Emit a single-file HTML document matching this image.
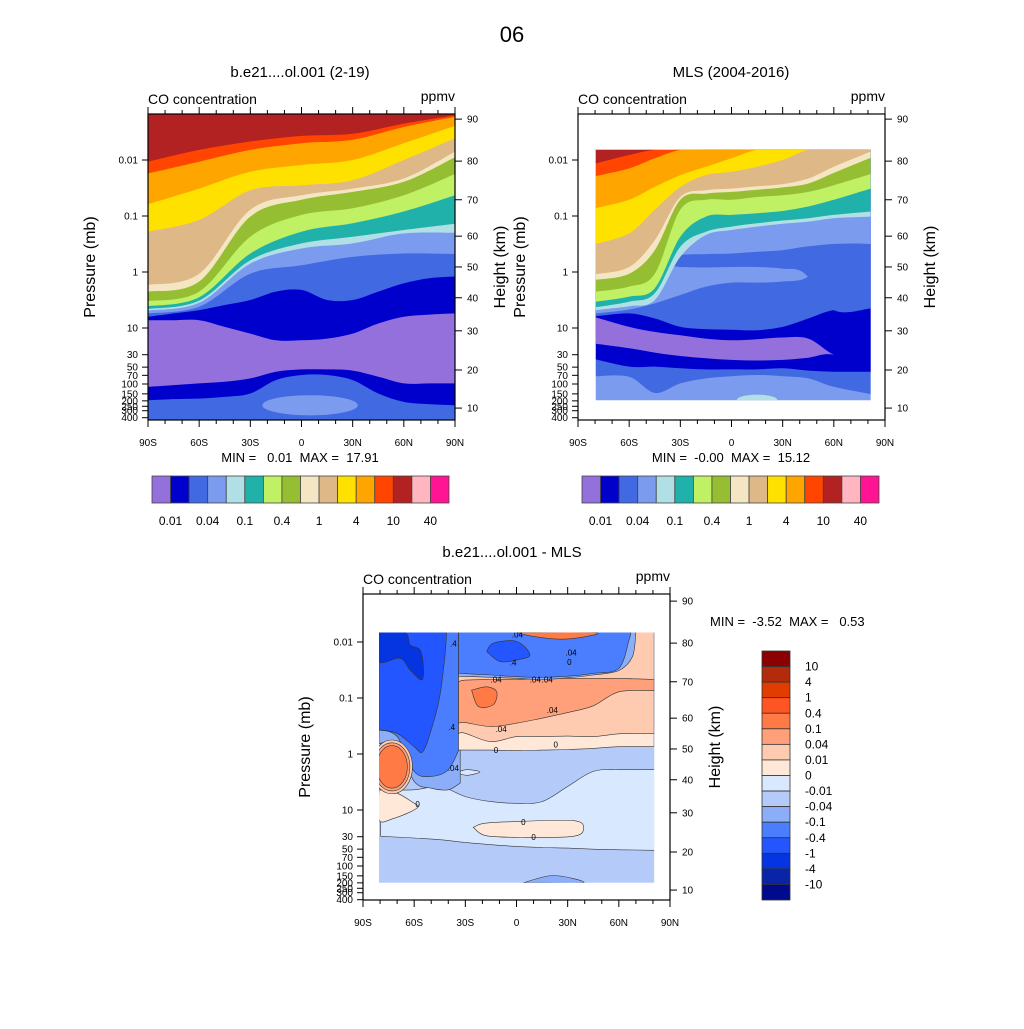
<!DOCTYPE html>
<html><head><meta charset="utf-8">
<style>
html,body{margin:0;padding:0;background:#fff;}
svg text{font-family:"Liberation Sans",Arial,sans-serif;}
.pre{white-space:pre;}
</style></head>
<body>
<svg id="fig" width="1024" height="1024" viewBox="0 0 1024 1024" xmlns="http://www.w3.org/2000/svg">
<rect x="0" y="0" width="1024" height="1024" fill="#fff"/>
<text x="512" y="42" font-size="22" text-anchor="middle">06</text>
<g id="root"></g>
</svg>
<script>
// ---------- shared data ----------
const pressTicks = [0.01, 0.1, 1, 10, 30, 50, 70, 100, 150, 200, 250, 300, 400];
const pressLabels = ["0.01","0.1","1","10","30","50","70","100","150","200","250","300","400"];
const heightTicks = [10, 20, 30, 40, 50, 60, 70, 80, 90];
const heightLogP = [2.43, 1.75, 1.05, 0.46, -0.09, -0.64, -1.29, -1.98, -2.73];
const latTicks = [-90, -60, -30, 0, 30, 60, 90];
const latLabels = ["90S","60S","30S","0","30N","60N","90N"];
const coLevels = ["0.01","0.04","0.1","0.4","1","4","10","40"];
const coColors = ["#9370DB","#0000CD","#4169E1","#7B9BEE","#B0E0E6","#20B2AA","#C0F064","#96BE32","#F5E6C3","#DEB887","#FFE100","#FFA500","#FF4500","#B22222","#FFB6C1","#FF1493"];
const diffLevels = ["10","4","1","0.4","0.1","0.04","0.01","0","-0.01","-0.04","-0.1","-0.4","-1","-4","-10"];
const diffColors = ["#8B0000","#B52A0A","#E33C00","#FF5522","#FF7A45","#FFA07A","#FFCBB0","#FFE8D8","#D8E8FF","#B4CBFA","#8CADF8","#4A7EFF","#2456FF","#0535E0","#0A24A8","#000A8C"];

// ---------- panel 1 (model) data: log10(p) of lower band boundaries ----------
const lat7 = [-90, -60, -30, 0, 30, 60, 90];
const lat13 = [-90, -75, -60, -45, -30, -15, 0, 15, 30, 45, 60, 75, 90];
const m_darkblue2 = [2.29,2.27,2.26,2.23,2.17,1.93,1.84,1.84,1.93,2.17,2.32,2.36,2.38];
const m_purple = [2.05,2.02,1.99,1.96,1.90,1.78,1.74,1.74,1.76,1.87,1.99,1.99,1.99];
const m_darkblue = [0.86,0.86,0.86,0.98,1.10,1.22,1.22,1.19,1.10,0.92,0.80,0.76,0.74];
const m_royal = [0.80,0.74,0.68,0.59,0.50,0.35,0.32,0.50,0.50,0.35,0.20,0.11,0.08];
const m_cornflower = [0.74,0.62,0.03,-0.12,-0.27,-0.33,-0.32];
const m_pale = [0.69,0.55,-0.15,-0.42,-0.51,-0.69,-0.70];
const m_teal = [0.66,0.51,-0.21,-0.51,-0.63,-0.75,-0.86];
const m_lightgreen = [0.61,0.45,-0.33,-0.72,-0.87,-1.08,-1.37];
const m_olive = [0.52,0.35,-0.63,-1.02,-1.14,-1.37,-1.75];
const m_cream = [0.35,0.17,-0.99,-1.29,-1.43,-1.61,-2.05];
const m_tan = [0.23,0.03,-1.11,-1.37,-1.49,-1.67,-2.15];
const m_yellow = [-0.72,-0.93,-1.46,-1.55,-1.64,-2.00,-2.39];
const m_orange = [-1.21,-1.49,-1.79,-1.91,-2.00,-2.30,-2.61];
const m_redorange = [-1.76,-1.97,-2.18,-2.30,-2.36,-2.59,-2.77];
const m_darkred = [-1.97,-2.18,-2.33,-2.43,-2.47,-2.65,-2.80];
const m_blob = [5, 2.38, 28, 0.18];

// ---------- panel 2 (MLS) ----------
const latM = [-79.6,-60,-45,-30,-15,0,15,30,45,60,81.6];
const o_royal = [1.86,1.87,2.16,1.99,1.90,1.86,1.84,1.86,1.90,2.05,2.18];
const o_darkblue = [1.56,1.69,1.69,1.72,1.74,1.74,1.74,1.72,1.76,1.78,1.78];
const o_purple = [1.28,1.36,1.44,1.50,1.54,1.57,1.58,1.57,1.53,1.48,1.78];
const o_darkblueU = [0.81,0.98,1.07,1.13,1.19,1.22,1.20,1.17,1.19,1.48,1.78];
const o_royalU = [0.79,0.74,0.83,0.98,1.02,1.03,1.04,0.98,0.83,0.68,0.65];
const o_cornflower = [0.74,0.67,0.56,0.41,0.26,0.19,0.19,0.17,0.08,-0.45,-0.50];
const latR2 = [-38,-30,-15,0,15,30,43,60,81.6];
const o_royal2Top = [-0.17,-0.30,-0.32,-0.33,-0.36,-0.39,-0.45,-0.50,-0.50];
const o_royal2Bot = [-0.12,-0.09,-0.08,-0.09,-0.09,-0.06,0.03,0.68,0.65];
const o_pale = [0.68,0.61,0.50,-0.27,-0.66,-0.75,-0.81,-0.86,-0.90,-0.96,-0.99];
const o_teal = [0.63,0.53,0.38,-0.45,-0.72,-0.81,-0.87,-0.92,-0.96,-1.02,-1.08];
const o_lightgreen = [0.53,0.44,0.29,-0.63,-0.99,-1.02,-1.05,-1.09,-1.17,-1.29,-1.49];
const o_olive = [0.35,0.26,0.03,-1.11,-1.29,-1.29,-1.34,-1.37,-1.43,-1.55,-1.75];
const o_cream = [0.14,0.03,-0.39,-1.29,-1.40,-1.43,-1.47,-1.51,-1.58,-1.77,-2.04];
const o_tan = [0.04,-0.09,-0.57,-1.34,-1.46,-1.49,-1.53,-1.57,-1.67,-1.88,-2.15];
const o_yellow = [-0.50,-0.69,-1.11,-1.52,-1.73,-1.79,-1.88,-2.00,-2.18,-2.18,-2.18];
const o_orange = [-1.14,-1.29,-1.52,-1.73,-1.88,-2.03,-2.18,-2.18,-2.18,-2.18,-2.18];
const o_redorange = [-1.71,-1.85,-2.03,-2.18,-2.18,-2.18,-2.18,-2.18,-2.18,-2.18,-2.18];
const o_darkred = [-1.94,-2.09,-2.18,-2.18,-2.18,-2.18,-2.18,-2.18,-2.18,-2.18,-2.18];
const o_blob = [15, 2.29, 12, 0.10];

// ---------- panel 3 (difference) ----------
const d_lightest = [1.47,1.50,1.53,1.58,1.62,1.65,1.67,1.68,1.70,1.71,1.72];
const d_light = [0.64,0.64,0.58,0.76,0.85,0.88,0.85,0.58,0.31,0.28,0.28];
const latL = [-80.6,-70,-60,-50,-40,-33];
const d_L_m004 = [-0.19,-0.16,0.49,0.61,0.64,0.52];
const d_L_m01 = [-0.43,-0.31,0.31,0.40,0.28,-0.13];
const latL2 = [-80.6,-70,-60,-55,-50,-45,-42,-41];
const d_L_m04 = [-0.43,-0.37,-0.13,-0.04,-0.43,-1.03,-1.74,-2.17];
const latR = [-34,-30,-15,0,15,30,45,60,80.7];
const d_R_zero = [-0.07,-0.07,-0.07,-0.06,-0.07,-0.08,-0.10,-0.13,-0.13];
const d_R_p001 = [-0.37,-0.37,-0.22,-0.31,-0.31,-0.32,-0.31,-0.36,-0.37];
const d_R_p004Top = [-1.29,-1.32,-1.33,-1.33,-1.35,-1.35,-1.35,-1.35,-1.33];
const d_R_p004Bot = [-0.55,-0.56,-0.49,-0.55,-0.64,-0.74,-0.86,-1.11,-1.13];
const latLensA = [-34,-15,0,15,30,45,60,68,70];
const d_lensA = [-1.39,-1.37,-1.35,-1.33,-1.36,-1.41,-1.49,-1.74,-2.17];
const latLensB = [-34,-15,0,15,30,45,60,66,67];
const d_lensB = [-1.44,-1.41,-1.38,-1.37,-1.39,-1.44,-1.53,-2.04,-2.17];
const d_darkTL_lat = [-80.6,-65.4,-62.4,-56.6,-54.6,-55.6,-62.4,-68.3,-80.6];
const d_darkTL_lp = [-2.17,-2.17,-1.95,-1.86,-1.56,-1.32,-1.50,-1.71,-1.65];
const d_lensDark_lat = [-17.5,-13.6,0.1,7.9,0.1,-9.7];
const d_lensDark_lp = [-1.83,-1.98,-2.01,-1.77,-1.68,-1.65];
const d_topOr_lat = [0.1,9.9,25.5,41.2,45.1];
const d_topOr_lp = [-2.17,-2.10,-2.05,-2.10,-2.17];
const d_smallOr_lat = [-26.3,-17.5,-11.6,-13.6,-22.4];
const d_smallOr_lp = [-1.14,-1.20,-1.11,-0.88,-0.85];
const d_peachL_lat = [-80.6,-70,-61,-57.6,-62,-72,-80.6];
const d_peachL_lp = [0.64,0.70,0.86,0.94,1.03,1.15,1.18];
const d_peachT_lat = [-25.3,-19.4,-3.8,33.3,39.2,33.3,6.0,-17.5];
const d_peachT_lp = [1.31,1.24,1.21,1.19,1.34,1.47,1.49,1.46];
const d_paleS_lat = [-35.1,-29.2,-21.4,-29.2];
const d_paleS_lp = [0.33,0.28,0.32,0.38];
const d_botB_lat = [4.0,21.6,39.2];
const d_botB_lp = [2.30,2.17,2.30];
const d_orBlob = [-73, 0.23, 9, 0.38];

// ---------- helpers ----------
const NS = "http://www.w3.org/2000/svg";
const root = document.getElementById('root');
function mk(tag, attrs, parent){ const e=document.createElementNS(NS,tag); for(const k in attrs) e.setAttribute(k,attrs[k]); (parent||root).appendChild(e); return e; }
function crPath(pts, first){
  let d = (first?'M':'L') + pts[0][0].toFixed(1)+','+pts[0][1].toFixed(1);
  for(let i=0;i<pts.length-1;i++){
    const p0=pts[i-1]||pts[i], p1=pts[i], p2=pts[i+1], p3=pts[i+2]||pts[i+1];
    const c1=[p1[0]+(p2[0]-p0[0])/6, p1[1]+(p2[1]-p0[1])/6];
    const c2=[p2[0]-(p3[0]-p1[0])/6, p2[1]-(p3[1]-p1[1])/6];
    d+='C'+c1[0].toFixed(1)+','+c1[1].toFixed(1)+' '+c2[0].toFixed(1)+','+c2[1].toFixed(1)+' '+p2[0].toFixed(1)+','+p2[1].toFixed(1);
  }
  return d;
}
function makePanel(x0,y0,off){
  return {x0:x0, x1:x0+307, y0:y0, y1:y0+306,
    X:(lat)=>x0+(lat+90)/180*307, Y:(lp)=>off+56*lp};
}
function band(P, g, lats, bot, top, color, name, stroke){
  const b = lats.map((l,i)=>[P.X(l),P.Y(bot[i])]);
  let d;
  if(top){
    const t = lats.map((l,i)=>[P.X(l),P.Y(top[i])]);
    d = crPath(t,true) + crPath(b.slice().reverse(),false) + 'Z';
  } else {
    const yt = P.y0-20;
    d = 'M'+b[0][0]+','+yt + crPath(b,false) + 'L'+b[b.length-1][0]+','+yt+'Z';
  }
  const e = mk('path',{d:d, fill:color}, g);
  if(stroke){ e.setAttribute('stroke','#333'); e.setAttribute('stroke-width','0.6'); }
  
  
  return e;
}
function blob(P,g,lats,lps,color,name,stroke){
  const pts = lats.map((l,i)=>[P.X(l),P.Y(lps[i])]);
  const pts2 = pts.concat([pts[0]]);
  const e = mk('path',{d:crPath(pts2,true)+'Z', fill:color}, g);
  if(stroke){ e.setAttribute('stroke','#333'); e.setAttribute('stroke-width','0.6'); }
  
  
}
function ell(P,g,v,color,name,stroke,grow){
  const gr = grow||[0,0];
  const e = mk('ellipse',{cx:P.X(v[0]), cy:P.Y(v[1]), rx:(v[2]+gr[0])/180*307, ry:(v[3]+gr[1])*56, fill:color}, g);
  if(stroke){ e.setAttribute('stroke','#333'); e.setAttribute('stroke-width','0.6'); }
  
  
}
function txt(x,y,s,size,anchor,name,rot){
  const e = mk('text',{x:x,y:y,'font-size':size,'text-anchor':anchor||'start',fill:'#000'});
  if(rot) e.setAttribute('transform','rotate(-90 '+x+' '+y+')');
  e.textContent = s;
  
  
  return e;
}
function axes(P, title, titleX, prefix){
  const g = mk('g',{});
  
  
  mk('rect',{x:P.x0,y:P.y0,width:307,height:306,fill:'none',stroke:'#000','stroke-width':1.2},g);
  for(let lat=-90; lat<=90; lat+=10){
    const x=P.X(lat), major = (lat%30===0);
    const L = major?7:4;
    mk('line',{x1:x,y1:P.y1,x2:x,y2:P.y1+L,stroke:'#000','stroke-width':1},g);
    mk('line',{x1:x,y1:P.y0,x2:x,y2:P.y0-L,stroke:'#000','stroke-width':1},g);
  }
  latTicks.forEach((l,i)=>txt(P.X(l), P.y1+26, latLabels[i], 10, 'middle', prefix+'-lat-label'));
  pressTicks.forEach((p,i)=>{
    const y=P.Y(Math.log10(p));
    mk('line',{x1:P.x0,y1:y,x2:P.x0-6,y2:y,stroke:'#000','stroke-width':1},g);
    txt(P.x0-10, y+3.5, pressLabels[i], 10, 'end', prefix+'-pressure-label');
  });
  heightTicks.forEach((h,i)=>{
    const y=P.Y(heightLogP[i]);
    mk('line',{x1:P.x1,y1:y,x2:P.x1+7,y2:y,stroke:'#000','stroke-width':1},g);
    txt(P.x1+12, y+3.5, String(h), 10, 'start', prefix+'-height-label');
  });
  txt(titleX, P.y0-37, title, 15, 'middle', prefix+'-title');
  txt(P.x0, P.y0-10, 'CO concentration', 14, 'start', prefix+'-subtitle');
  txt(P.x1, P.y0-13, 'ppmv', 14, 'end', prefix+'-units');
  txt(P.x0-53, (P.y0+P.y1)/2, 'Pressure (mb)', 16, 'middle', prefix+'-y-axis-title', true);
  txt(P.x1+50, (P.y0+P.y1)/2, 'Height (km)', 16, 'middle', prefix+'-right-axis-title', true);
}
function clipRect(id,x,y,w,h){
  const defs = mk('defs',{});
  const cp = mk('clipPath',{id:id},defs);
  mk('rect',{x:x,y:y,width:w,height:h},cp);
}
function coBar(x0,y0,prefix){
  const w=297/16;
  coColors.forEach((c,i)=>{
    const r=mk('rect',{x:x0+i*w,y:y0,width:w,height:27,fill:c,stroke:'#444','stroke-width':0.8});
    
    
  });
  coLevels.forEach((s,i)=>txt(x0+(2*i+1)*w, y0+49, s, 12, 'middle', prefix+'-colorbar-label'));
}

// ---------- panel 1 ----------
const P1 = makePanel(148,114,272);
clipRect('c1',148,114,307,306);
const g1 = mk('g',{'clip-path':'url(#c1)'});


mk('rect',{x:148,y:114,width:307,height:306,fill:coColors[2]},g1);
band(P1,g1,lat13,m_darkblue2,null,coColors[1],'band-darkblue-lower');
band(P1,g1,lat13,m_purple,null,coColors[0],'band-purple');
band(P1,g1,lat13,m_darkblue,null,coColors[1],'band-darkblue');
band(P1,g1,lat13,m_royal,null,coColors[2],'band-royalblue');
band(P1,g1,lat7,m_cornflower,null,coColors[3],'band-cornflower');
band(P1,g1,lat7,m_pale,null,coColors[4],'band-paleblue');
band(P1,g1,lat7,m_teal,null,coColors[5],'band-teal');
band(P1,g1,lat7,m_lightgreen,null,coColors[6],'band-lightgreen');
band(P1,g1,lat7,m_olive,null,coColors[7],'band-olive');
band(P1,g1,lat7,m_cream,null,coColors[8],'band-cream');
band(P1,g1,lat7,m_tan,null,coColors[9],'band-tan');
band(P1,g1,lat7,m_yellow,null,coColors[10],'band-yellow');
band(P1,g1,lat7,m_orange,null,coColors[11],'band-orange');
band(P1,g1,lat7,m_redorange,null,coColors[12],'band-redorange');
band(P1,g1,lat7,m_darkred,null,coColors[13],'band-darkred');
ell(P1,g1,m_blob,coColors[3],'blob-cornflower');
axes(P1,'b.e21....ol.001 (2-19)',300,'model');
txt(300,462,'MIN =   0.01  MAX =  17.91',13,'middle','model-min-max').setAttribute('class','pre');
coBar(152,476,'model');

// ---------- panel 2 ----------
const P2 = makePanel(578,114,272);
clipRect('c2',P2.X(-79.6),P2.Y(-2.18),P2.X(81.6)-P2.X(-79.6),P2.Y(2.29)-P2.Y(-2.18));
const g2 = mk('g',{'clip-path':'url(#c2)'});


mk('rect',{x:578,y:114,width:307,height:306,fill:coColors[3]},g2);
band(P2,g2,latM,o_royal,null,coColors[2],'band-royalblue-lower');
band(P2,g2,latM,o_darkblue,null,coColors[1],'band-darkblue-lower');
band(P2,g2,latM,o_purple,null,coColors[0],'band-purple');
band(P2,g2,latM,o_darkblueU,null,coColors[1],'band-darkblue');
band(P2,g2,latM,o_royalU,null,coColors[2],'band-royalblue');
band(P2,g2,latM,o_cornflower,null,coColors[3],'band-cornflower');
band(P2,g2,latR2,o_royal2Bot,o_royal2Top,coColors[2],'band-royalblue-middle');
band(P2,g2,latM,o_pale,null,coColors[4],'band-paleblue');
band(P2,g2,latM,o_teal,null,coColors[5],'band-teal');
band(P2,g2,latM,o_lightgreen,null,coColors[6],'band-lightgreen');
band(P2,g2,latM,o_olive,null,coColors[7],'band-olive');
band(P2,g2,latM,o_cream,null,coColors[8],'band-cream');
band(P2,g2,latM,o_tan,null,coColors[9],'band-tan');
band(P2,g2,latM,o_yellow,null,coColors[10],'band-yellow');
band(P2,g2,latM,o_orange,null,coColors[11],'band-orange');
band(P2,g2,latM,o_redorange,null,coColors[12],'band-redorange');
band(P2,g2,latM,o_darkred,null,coColors[13],'band-darkred');
ell(P2,g2,o_blob,coColors[4],'blob-paleblue');
axes(P2,'MLS (2004-2016)',731,'mls');
txt(731,462,'MIN =  -0.00  MAX =  15.12',13,'middle','mls-min-max').setAttribute('class','pre');
coBar(582,476,'mls');

// ---------- panel 3 ----------
const P3 = makePanel(363,594,754);
clipRect('c3',P3.X(-80.6),P3.Y(-2.17),P3.X(80.7)-P3.X(-80.6),P3.Y(2.30)-P3.Y(-2.17));
const g3 = mk('g',{'clip-path':'url(#c3)'});


mk('rect',{x:363,y:594,width:307,height:306,fill:diffColors[9]},g3);
band(P3,g3,latM,d_lightest,null,diffColors[8],'band-minus001',true);
band(P3,g3,latM,d_light,null,diffColors[9],'band-minus004',true);
blob(P3,g3,d_peachL_lat,d_peachL_lp,diffColors[7],'blob-left-positive',true);
blob(P3,g3,d_peachT_lat,d_peachT_lp,diffColors[7],'blob-tropical-positive',true);
blob(P3,g3,d_paleS_lat,d_paleS_lp,diffColors[8],'blob-small-pale',true);
blob(P3,g3,d_botB_lat,d_botB_lp,diffColors[10],'blob-bottom-blue',true);
band(P3,g3,latL,d_L_m004,null,diffColors[10],'band-left-minus01',true);
band(P3,g3,latL,d_L_m01,null,diffColors[11],'band-left-minus04',true);
band(P3,g3,latL2,d_L_m04,null,diffColors[12],'band-left-minus1',true);
blob(P3,g3,d_darkTL_lat,d_darkTL_lp,diffColors[13],'blob-topleft-minus4',true);
ell(P3,g3,d_orBlob,diffColors[6],'blob-left-orange-ring2',true,[3,0.1]);
ell(P3,g3,d_orBlob,diffColors[5],'blob-left-orange-ring1',true,[1.5,0.05]);
ell(P3,g3,d_orBlob,diffColors[4],'blob-left-orange',true);
band(P3,g3,latR,d_R_zero,null,diffColors[7],'band-right-zero',true);
band(P3,g3,latR,d_R_p001,null,diffColors[6],'band-right-001',true);
band(P3,g3,latR,d_R_p004Bot,d_R_p004Top,diffColors[5],'band-right-004',true);
band(P3,g3,latLensA,d_lensA,null,diffColors[10],'lens-outer',true);
band(P3,g3,latLensB,d_lensB,null,diffColors[11],'lens-inner',true);
blob(P3,g3,d_lensDark_lat,d_lensDark_lp,diffColors[12],'lens-dark',true);
blob(P3,g3,d_topOr_lat,d_topOr_lp,diffColors[4],'blob-top-orange',true);
blob(P3,g3,d_smallOr_lat,d_smallOr_lp,diffColors[4],'blob-small-orange',true);
const lblText = [".04",".4",".4",".04",".04",".04",".04",".04","0","0",".4",".04","0","0","0",".04","0"];
const lblLat = [0.5,-2,-37,-12,11,18,21,-9,-12,23,-38,-37,-58,4,10,32,31];
const lblLp = [-2.13,-1.63,-1.97,-1.33,-1.33,-1.33,-0.79,-0.45,-0.07,-0.17,-0.48,0.25,0.89,1.21,1.48,-1.81,-1.64];
lblText.forEach((s,i)=>{
  const t = txt(P3.X(lblLat[i]), P3.Y(lblLp[i])+3, s, 8, 'middle', 'contour-label', false);
  g3.appendChild(t);
});
axes(P3,'b.e21....ol.001 - MLS',512,'diff');
txt(710,626,'MIN =  -3.52  MAX =   0.53',13,'start','diff-min-max').setAttribute('class','pre');
const dh = 249/16;
diffColors.forEach((c,i)=>{
  const r=mk('rect',{x:762,y:651+i*dh,width:28,height:dh,fill:c,stroke:'#333','stroke-width':0.8});
  
  
});
diffLevels.forEach((s,i)=>txt(805,651+(i+1)*dh+4,s,12,'start','diff-colorbar-label'));
</script>
</body></html>
